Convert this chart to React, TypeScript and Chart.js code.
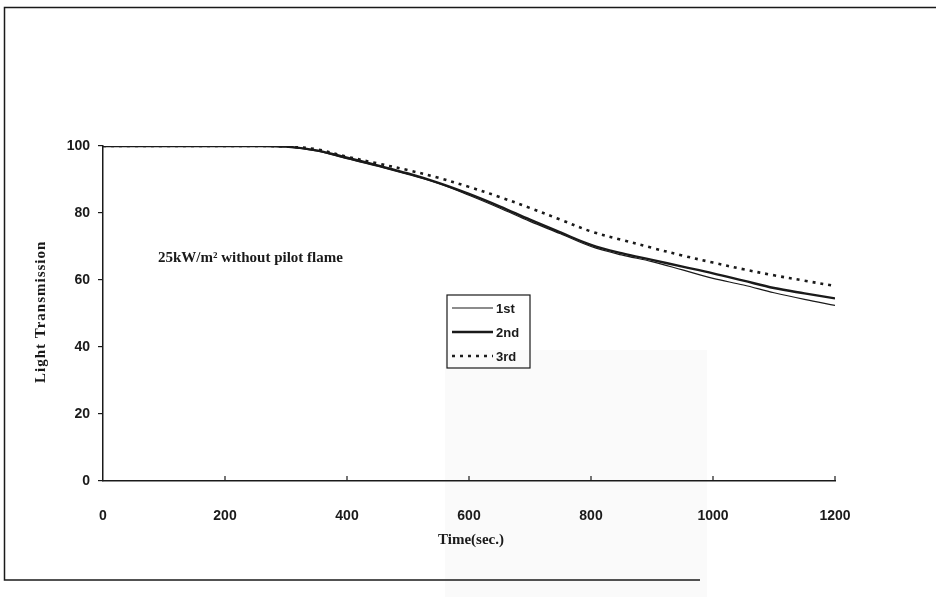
import React, { useEffect, useRef } from "react";
import { Chart, registerables } from "chart.js";

Chart.register(...registerables);

const times = [0, 50, 100, 150, 200, 250, 300, 350, 400, 450, 500, 550, 600, 650, 700, 750, 800, 850, 900, 950, 1000, 1050, 1100, 1150, 1200];
const run1 = [100, 100, 100, 100, 100, 100, 99.8, 98.5, 96.2, 94.0, 91.5, 88.8, 85.3, 81.5, 77.5, 73.8, 70.0, 67.5, 65.5, 63.0, 60.5, 58.5, 56.2, 54.2, 52.4];
const run2 = [100, 100, 100, 100, 100, 100, 99.8, 98.7, 96.5, 94.2, 91.8, 89.0, 85.7, 82.0, 78.0, 74.2, 70.5, 68.0, 66.0, 64.0, 62.0, 59.8, 57.6, 56.0, 54.5];
const run3 = [100, 100, 100, 100, 100, 100, 99.9, 99.0, 96.8, 94.8, 92.8, 90.5, 87.8, 84.8, 81.5, 78.0, 74.5, 72.0, 69.6, 67.3, 65.2, 63.2, 61.4, 59.8, 58.2];
const seriesLabels = ["1st", "2nd", "3rd"];
const xTicks = [0, 200, 400, 600, 800, 1000, 1200];
const yTicks = [0, 20, 40, 60, 80, 100];
const annotationText = "25kW/m\u00b2 without pilot flame";
const xTitle = "Time(sec.)";
const yTitle = "Light Transmission";

const INK = "#1a1a1a";

const decorPlugin = {
  id: "decor",
  beforeDraw(chart: any) {
    const ctx = chart.ctx;
    ctx.save();
    ctx.fillStyle = "#ffffff";
    ctx.fillRect(0, 0, chart.width, chart.height);
    ctx.fillStyle = "#fafafa";
    ctx.fillRect(445, 350, 262, 247);
    ctx.strokeStyle = INK;
    ctx.lineWidth = 1.5;
    ctx.beginPath();
    ctx.moveTo(936, 7.5);
    ctx.lineTo(4.5, 7.5);
    ctx.lineTo(4.5, 580);
    ctx.lineTo(700, 580);
    ctx.stroke();
    ctx.restore();
  },
  afterDraw(chart: any) {
    const ctx = chart.ctx;
    const xs = chart.scales.x;
    const ys = chart.scales.y;
    ctx.save();
    ctx.strokeStyle = INK;
    ctx.lineWidth = 1.2;
    const yb = ys.getPixelForValue(0);
    xTicks.forEach((t) => {
      if (t === 0) return;
      const px = xs.getPixelForValue(t);
      ctx.beginPath();
      ctx.moveTo(px, yb);
      ctx.lineTo(px, yb - 5);
      ctx.stroke();
    });
    ctx.fillStyle = INK;
    ctx.font = "bold 15px 'Liberation Serif', serif";
    ctx.textAlign = "left";
    ctx.textBaseline = "middle";
    ctx.fillText(annotationText, 158, 258);
    ctx.textAlign = "center";
    ctx.fillText(xTitle, 471, 540);
    ctx.save();
    ctx.translate(41, 383);
    ctx.rotate(-Math.PI / 2);
    ctx.textAlign = "left";
    ctx.font = "bold 15px 'Liberation Serif', serif";
    (ctx as any).letterSpacing = "1px";
    ctx.fillText(yTitle, 0, 0);
    ctx.restore();
    const bx = 447, by = 295, bw = 83, bh = 73;
    ctx.strokeStyle = INK;
    ctx.lineWidth = 1.2;
    ctx.strokeRect(bx, by, bw, bh);
    const rowY = [308, 332, 356];
    chart.data.datasets.forEach((ds: any, i: number) => {
      ctx.beginPath();
      ctx.strokeStyle = ds.borderColor;
      ctx.lineWidth = ds.borderWidth;
      ctx.setLineDash(ds.borderDash || []);
      ctx.moveTo(452, rowY[i]);
      ctx.lineTo(493, rowY[i]);
      ctx.stroke();
      ctx.setLineDash([]);
      ctx.fillStyle = INK;
      ctx.font = "bold 13px 'Liberation Sans', sans-serif";
      ctx.textAlign = "left";
      ctx.textBaseline = "middle";
      ctx.fillText(ds.label, 496, rowY[i] + 1);
    });
    ctx.restore();
  },
};

export default function App() {
  const ref = useRef<HTMLCanvasElement | null>(null);
  useEffect(() => {
    document.body.style.margin = "0";
    if (!ref.current) return;
    const mk = (arr: number[]) => times.map((t, i) => ({ x: t, y: arr[i] }));
    const chart = new Chart(ref.current, {
      type: "line",
      data: {
        datasets: [
          { label: seriesLabels[0], data: mk(run1), borderColor: INK, borderWidth: 1.2, pointRadius: 0, tension: 0.35, fill: false },
          { label: seriesLabels[1], data: mk(run2), borderColor: INK, borderWidth: 2.4, pointRadius: 0, tension: 0.35, fill: false },
          { label: seriesLabels[2], data: mk(run3), borderColor: INK, borderWidth: 2.6, borderDash: [3, 5], pointRadius: 0, tension: 0.35, fill: false },
        ],
      },
      options: {
        responsive: false,
        animation: false,
        layout: { padding: { left: 0, top: 146, right: 101, bottom: 0 } },
        plugins: { legend: { display: false }, tooltip: { enabled: false } },
        scales: {
          x: {
            type: "linear",
            min: 0,
            max: 1200,
            afterFit: (s: any) => { s.height = 116; },
            afterBuildTicks: (s: any) => { s.ticks = xTicks.map((v) => ({ value: v })); },
            grid: { display: false },
            border: { display: true, color: INK, width: 1.5 },
            ticks: { color: INK, padding: 19, maxRotation: 0, callback: (v: any) => String(v), font: { family: "'Liberation Sans', sans-serif", size: 14, weight: "bold" } },
          },
          y: {
            type: "linear",
            min: 0,
            max: 100,
            afterFit: (s: any) => { s.width = 103; },
            afterBuildTicks: (s: any) => { s.ticks = yTicks.map((v) => ({ value: v })); },
            grid: { display: true, drawOnChartArea: false, drawTicks: true, tickLength: 5, color: INK, lineWidth: 1.2 },
            border: { display: true, color: INK, width: 1.5 },
            ticks: { color: INK, padding: 8, callback: (v: any) => String(v), font: { family: "'Liberation Sans', sans-serif", size: 14, weight: "bold" } },
          },
        },
      },
      plugins: [decorPlugin],
    } as any);
    return () => chart.destroy();
  }, []);
  return (
    <div style={{ position: "absolute", left: 0, top: 0, width: 936, height: 597 }}>
      <canvas ref={ref} width={936} height={597} style={{ display: "block" }} />
    </div>
  );
}
